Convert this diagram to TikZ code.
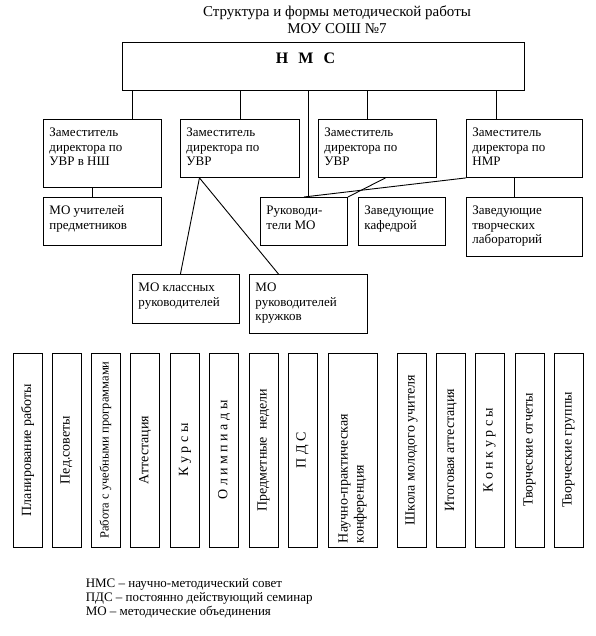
\documentclass[tikz,border=0pt]{standalone}
\usepackage{fontspec}
\setmainfont{Liberation Serif}
\newcommand{\celltext}[3]{\parbox[t][#2][t]{#1}{\raggedright\rule{0pt}{17.5pt}#3}}
\begin{document}
\begin{tikzpicture}[x=1pt, y=-1pt, line width=0.9pt,
    font=\fontsize{13}{14.5}\selectfont]
  \tikzset{
    rbox/.style={draw, anchor=north west, inner xsep=6pt, inner ysep=0pt},
    colbox/.style={draw, rotate=90, minimum width=194pt, minimum height=29pt,
      inner sep=2pt, font=\fontsize{14}{16}\selectfont}
  }
  \useasboundingbox (0,0) rectangle (595,636);

  % Title
  \node[align=center, font=\fontsize{15}{17}\selectfont] (title) at (337,19.5)
    {Структура и формы методической работы\\МОУ СОШ №7};

  % Top box
  \node[draw, anchor=north west, minimum width=402pt, minimum height=48pt] (nms) at (122,42) {};
  \node[font=\fontsize{16}{16}\bfseries\selectfont] (nmstxt) at (305.5,58) {Н\hspace{10pt}М\hspace{10pt}С};

  % Deputies
  \node[rbox] (zam1) at (43,119) {\celltext{106pt}{68pt}{Заместитель\\директора по\\УВР в НШ}};
  \node[rbox] (zam2) at (180,119) {\celltext{107pt}{58pt}{Заместитель\\директора по\\УВР}};
  \node[rbox] (zam3) at (318,119) {\celltext{106pt}{58pt}{Заместитель\\директора по\\УВР}};
  \node[rbox] (zam4) at (466,119) {\celltext{104pt}{58pt}{Заместитель\\директора по\\НМР}};

  % Second row
  \node[rbox] (mouch) at (43,197) {\celltext{106pt}{48pt}{МО учителей\\предметников}};
  \node[rbox] (ruk) at (260,197) {\celltext{75pt}{48pt}{Руководи-\\тели МО}};
  \node[rbox] (kaf) at (358,197) {\celltext{75pt}{48pt}{Заведующие\\кафедрой}};
  \node[rbox] (tvor) at (466,197) {\celltext{104pt}{59pt}{Заведующие\\творческих\\лабораторий}};

  % Third row
  \node[rbox] (mokl) at (132,274) {\celltext{95pt}{49pt}{МО классных\\руководителей}};
  \node[rbox] (mokr) at (249,274) {\celltext{106pt}{59pt}{МО\\руководителей\\кружков}};

  % Connectors
  \draw ([xshift=30pt]zam1.north) -- ([xshift=30pt]zam1.north |- nms.south);
  \draw (zam2.north) -- (zam2.north |- nms.south);
  \draw ([xshift=-10pt]zam3.north) -- ([xshift=-10pt]zam3.north |- nms.south);
  \draw ([xshift=-28pt]zam4.north) -- ([xshift=-28pt]zam4.north |- nms.south);
  \draw ([xshift=4.5pt]ruk.north) -- ([xshift=4.5pt]ruk.north |- nms.south);
  \draw ([xshift=-10pt]mouch.north) -- ([xshift=-10pt]mouch.north |- zam1.south);
  \draw ([xshift=-10pt]tvor.north) -- ([xshift=-10pt]tvor.north |- zam4.south);
  \draw ([xshift=-40.5pt]zam2.south) -- ([xshift=-5.5pt]mokl.north);
  \draw ([xshift=-40.5pt]zam2.south) -- ([xshift=-30pt]mokr.north);
  \draw ([xshift=8pt]zam3.south) -- (ruk.north east);
  \draw (zam4.south west) -- (ruk.north);

  % Forms of work (columns)
  \node[colbox] (f1) at (27.5,450) {Планирование работы};
  \node[colbox] (f2) at (66.5,450) {Пед.советы};
  \node[colbox, font=\fontsize{12.5}{15}\selectfont] (f3) at (105.5,450) {Работа с учебными программами};
  \node[colbox] (f4) at (145,450) {Аттестация};
  \node[colbox] (f5) at (185,450) {К у р с ы};
  \node[colbox] (f6) at (224,450) {О л и м п и а д ы};
  \node[colbox] (f7) at (263.5,450) {Предметные\ \ недели};
  \node[colbox] (f8) at (302.5,450) {П Д С};
  \node[colbox, minimum height=49pt, text width=186pt, align=left] (f9) at (352.5,450)
    {Научно-практическая\\конференция};
  \node[colbox] (f10) at (411.5,450) {Школа молодого учителя};
  \node[colbox] (f11) at (451,450) {Итоговая аттестация};
  \node[colbox] (f12) at (489.5,450) {К о н к у р с ы};
  \node[colbox] (f13) at (529.5,450) {Творческие отчеты};
  \node[colbox] (f14) at (568.5,450) {Творческие группы};

  % Legend
  \node[anchor=west, align=left, font=\fontsize{13}{14}\selectfont] (legend) at (82,598)
    {НМС – научно-методический совет\\ПДС – постоянно действующий семинар\\МО – методические объединения};
\end{tikzpicture}
\end{document}
